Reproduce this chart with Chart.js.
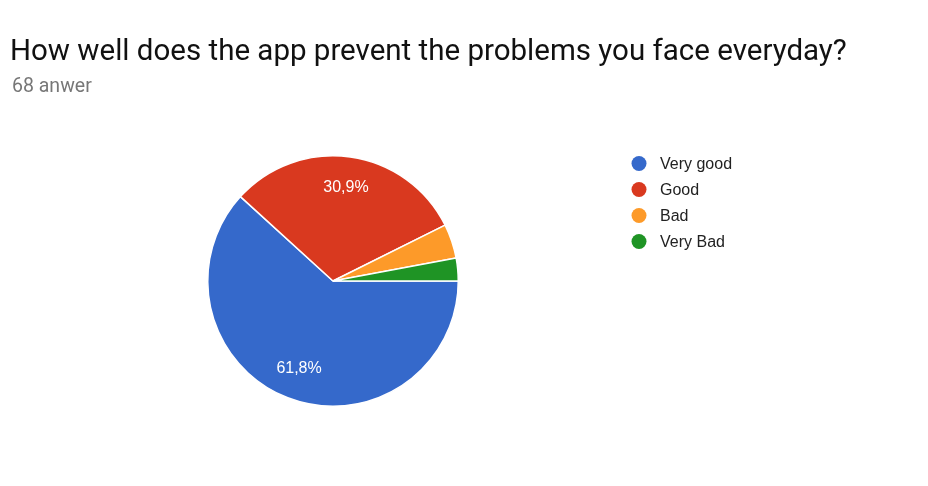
<!DOCTYPE html>
<html>
<head>
<meta charset="utf-8">
<script src="https://cdn.jsdelivr.net/npm/chart.js@4/dist/chart.umd.min.js"></script>
<style>
  html, body { margin: 0; padding: 0; background: #fff; }
  #wrap { position: relative; width: 928px; height: 486px; overflow: hidden; }
  #title { position: absolute; left: 10px; top: 33px; font-family: Roboto, sans-serif; font-size: 29.5px; line-height: 34px; color: #111; white-space: nowrap; }
  #sub { position: absolute; left: 12px; top: 75px; font-family: Roboto, sans-serif; font-size: 19.5px; line-height: 22px; color: #777; white-space: nowrap; }
  canvas { position: absolute; left: 0; top: 0; }
</style>
</head>
<body>
<div id="wrap">
  <canvas id="c" width="928" height="486"></canvas>
  <div id="title">How well does the app prevent the problems you face everyday?</div>
  <div id="sub">68 anwer</div>
</div>
<script>
const categories = ["Very good", "Good", "Bad", "Very Bad"];
const counts = [42, 21, 3, 2];
const colors = ["#3569cb", "#d9391f", "#fd9a29", "#1f9425"];

const labelPlugin = {
  id: 'sliceLabels',
  afterDatasetsDraw(chart) {
    const ctx = chart.ctx;
    const meta = chart.getDatasetMeta(0);
    const total = counts.reduce((a, b) => a + b, 0);
    ctx.save();
    ctx.font = '16px "Liberation Sans", Arial, sans-serif';
    ctx.fillStyle = '#fff';
    ctx.textAlign = 'center';
    ctx.textBaseline = 'middle';
    meta.data.forEach((arc, i) => {
      const pct = counts[i] / total * 100;
      if (pct < 10) return;
      const p = arc.getProps(['x', 'y', 'startAngle', 'endAngle', 'outerRadius'], true);
      const mid = (p.startAngle + p.endAngle) / 2;
      const r = p.outerRadius * 0.75;
      ctx.fillText(pct.toFixed(1).replace('.', ',') + '%', p.x + Math.cos(mid) * r, p.y + Math.sin(mid) * r);
    });
    ctx.restore();
  }
};

const legendPlugin = {
  id: 'sideLegend',
  afterDraw(chart) {
    const ctx = chart.ctx;
    const items = chart.options.plugins.legend.labels.generateLabels(chart);
    const x0 = 639, y0 = 163.5, gap = 26;
    ctx.save();
    ctx.font = '16px "Liberation Sans", Arial, sans-serif';
    ctx.textBaseline = 'middle';
    items.forEach((it, i) => {
      const y = y0 + i * gap;
      ctx.beginPath();
      ctx.arc(x0, y, 7.5, 0, Math.PI * 2);
      ctx.fillStyle = it.fillStyle;
      ctx.fill();
      ctx.fillStyle = '#222';
      ctx.fillText(it.text, x0 + 21, y + 1);
    });
    ctx.restore();
  }
};

new Chart(document.getElementById('c'), {
  type: 'pie',
  data: {
    labels: categories,
    datasets: [{
      data: counts,
      backgroundColor: colors,
      borderColor: '#fff',
      borderWidth: 1.5
    }]
  },
  options: {
    responsive: false,
    animation: false,
    rotation: 90,
    layout: { padding: { left: 207, right: 469, top: 155, bottom: 79 } },
    plugins: {
      legend: { display: false },
      tooltip: { enabled: false }
    }
  },
  plugins: [labelPlugin, legendPlugin]
});
</script>
</body>
</html>
